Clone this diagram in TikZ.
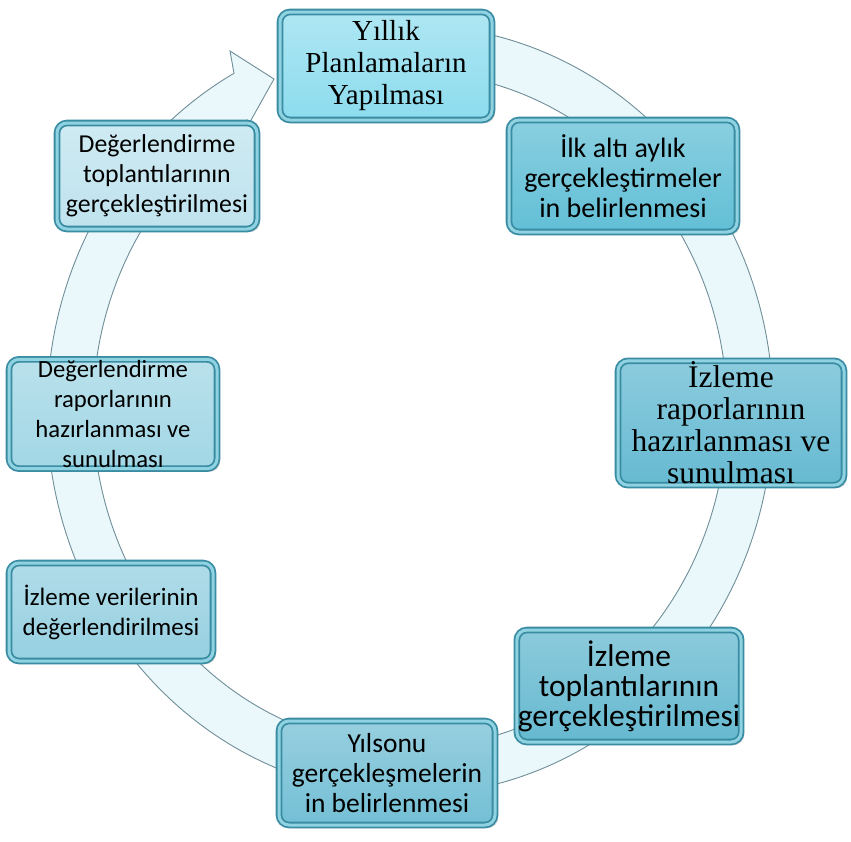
\documentclass[tikz,border=0pt]{standalone}
\usepackage{fontspec}
\setmainfont{Carlito}
\newfontfamily\cambriafont{Liberation Serif}
\usepackage{xcolor}
\usetikzlibrary{shadows}

\definecolor{ringfill}{HTML}{EAF8FB}
\definecolor{ringedge}{HTML}{6F8E98}
\definecolor{boxedge}{HTML}{3A8CA2}
\definecolor{boxrim}{HTML}{8FD3E3}
\definecolor{boxa}{HTML}{8CDCEE}
\definecolor{boxb}{HTML}{62BFD6}
\definecolor{boxc}{HTML}{66BAD2}
\definecolor{boxd}{HTML}{66B9D0}
\definecolor{boxe}{HTML}{74BFD5}
\definecolor{boxf}{HTML}{96D0E1}
\definecolor{boxg}{HTML}{A2D7E5}
\definecolor{boxh}{HTML}{BFE3EE}

\begin{document}
\begin{tikzpicture}[x=1pt,y=-1pt]

        \useasboundingbox (0,0) rectangle (851,841);

        \tikzstyle{stepbox}=[draw=boxedge,line width=1.8pt,double=boxrim,double distance=3pt,
            rounded corners=10pt,align=center,inner sep=1pt,
            drop shadow={shadow xshift=3pt,shadow yshift=-3pt,opacity=.3}]
        \tikzstyle{sansbox}=[font=\fontsize{#1}{30}\selectfont]
        \tikzstyle{serifbox}=[font=\cambriafont\fontsize{#1}{32}\selectfont]

        %% Draw the ring with its head
        \draw[fill=ringfill,draw=ringedge,line width=.9pt]
            (410,410) ++(-80:363 and 385)
            arc[start angle=-80,end angle=241,x radius=363,y radius=385]
            -- (230,51) -- (274,79) -- (241,138)
            -- ([shift={(239:317 and 338)}]410,410)
            arc[start angle=239,end angle=-80,x radius=317,y radius=338] -- cycle;

        %% Draw the steps
        \node[stepbox,serifbox=29,top color=boxa!70!white,bottom color=boxa,minimum width=212pt,minimum height=108pt] (plan) at (386,66) {Yıllık\\Planlamaların\\Yapılması};
        \node[stepbox,sansbox=28,top color=boxb!75!white,bottom color=boxb,minimum width=228pt,minimum height=112pt] (firsthalf) at (623,176) {İlk altı aylık\\gerçekleştirmeler\\in belirlenmesi};
        \node[stepbox,serifbox=31.5,top color=boxc!75!white,bottom color=boxc,minimum width=226pt,minimum height=112pt] (monreport) at (731,423) {İzleme\\raporlarının\\hazırlanması ve\\sunulması};
        \node[stepbox,sansbox=31.5,top color=boxd!75!white,bottom color=boxd,minimum width=222pt,minimum height=112pt] (monmeeting) at (629,686) {İzleme\\toplantılarının\\gerçekleştirilmesi};
        \node[stepbox,sansbox=27.5,top color=boxe!75!white,bottom color=boxe,minimum width=216pt,minimum height=104pt] (yearend) at (387,773) {Yılsonu\\gerçekleşmelerin\\in belirlenmesi};
        \node[stepbox,sansbox=25,top color=boxf!75!white,bottom color=boxf,minimum width=204pt,minimum height=98pt] (dataeval) at (111,612) {İzleme verilerinin\\değerlendirilmesi};
        \node[stepbox,sansbox=24.7,top color=boxg!75!white,bottom color=boxg,minimum width=208pt,minimum height=102pt] (evalreport) at (113,414) {Değerlendirme\\raporlarının\\hazırlanması ve\\sunulması};
        \node[stepbox,sansbox=25.8,top color=boxh!75!white,bottom color=boxh,minimum width=200pt,minimum height=106pt] (evalmeeting) at (157,176) {Değerlendirme\\toplantılarının\\gerçekleştirilmesi};

\end{tikzpicture}
\end{document}
